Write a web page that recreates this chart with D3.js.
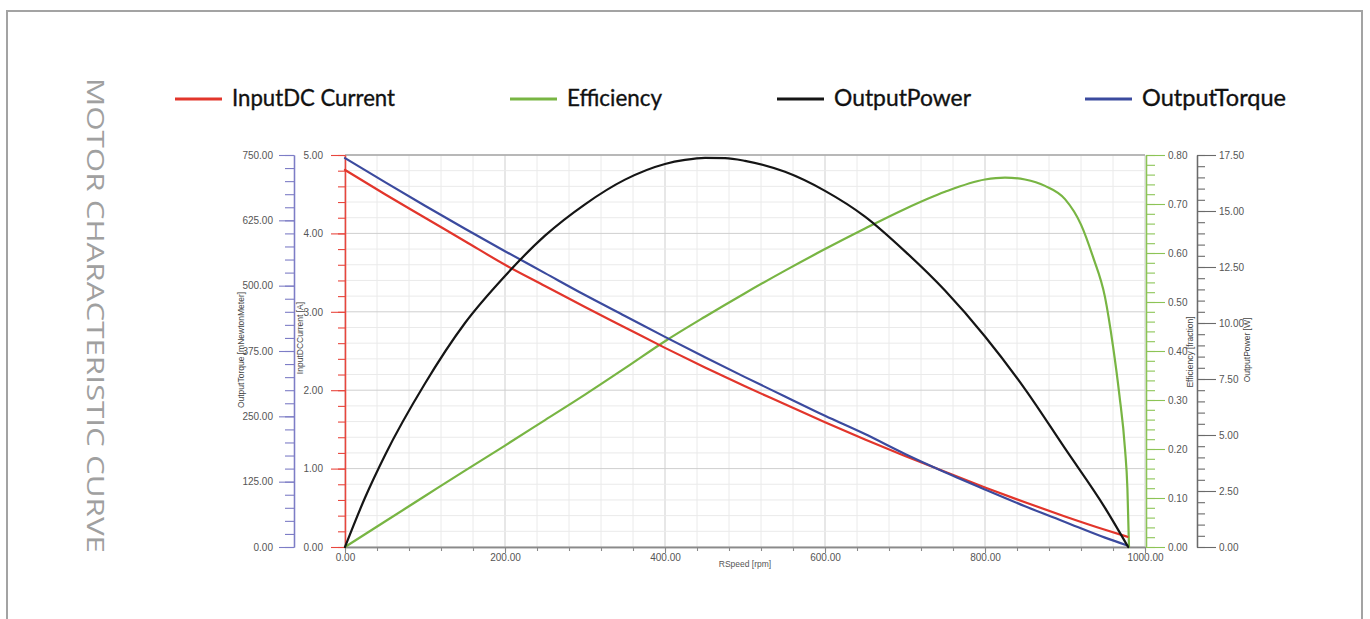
<!DOCTYPE html>
<html><head><meta charset="utf-8">
<script src="https://cdn.jsdelivr.net/npm/d3@7"></script>
<style>
html,body{margin:0;padding:0;background:#fff;}
svg{display:block;}
</style></head><body>
<svg id="chart" width="1370" height="619"></svg>
<script>
// ---------- DATA ----------
const chartTitle = "MOTOR CHARACTERISTIC CURVE";
const seriesNames = ["InputDC Current", "Efficiency", "OutputPower", "OutputTorque"];
const seriesColors = ["#e2352b", "#78b543", "#151515", "#3b4a9e"];

// speed points for current & torque
const speedCT = [0,50,100,150,200,250,300,350,400,450,500,550,600,650,700,750,800,850,900,950,978];
const inputCurrent = [4.81,4.50,4.20,3.90,3.60,3.33,3.06,2.80,2.54,2.29,2.05,1.82,1.59,1.37,1.16,0.96,0.76,0.57,0.39,0.22,0.13];
const outputTorque = [744,698,653,609,566,524,482,442,402,363,325,288,251,216,178,143,110,78,48,18,3];

// speed points for power
const speedP = [0,25,50,100,150,200,250,300,350,400,425,450,475,500,550,600,650,700,750,800,850,900,950,979];
const outputPower = [0,2.2,4.1,7.3,10.0,12.1,13.9,15.3,16.4,17.1,17.28,17.37,17.36,17.24,16.75,15.9,14.75,13.2,11.45,9.4,7.05,4.4,1.75,0];

// speed points for efficiency
const speedE = [0,50,100,150,200,250,300,350,400,450,500,550,600,650,700,750,800,825,850,875,900,920,935,950,960,968,975,978,980];
const efficiency = [0,0.052,0.104,0.156,0.207,0.259,0.311,0.365,0.42,0.47,0.518,0.564,0.608,0.65,0.69,0.725,0.75,0.754,0.75,0.737,0.71,0.658,0.592,0.51,0.41,0.31,0.20,0.12,0];

// axis tick values
const speedTicks = [0,200,400,600,800,1000];
const currentTicks = [0,1,2,3,4,5];
const torqueTicks = [0,125,250,375,500,625,750];
const effTicks = [0,0.1,0.2,0.3,0.4,0.5,0.6,0.7,0.8];
const powerTicks = [0,2.5,5,7.5,10,12.5,15,17.5];

// axis titles
const xTitle = "RSpeed [rpm]";
const torqueTitle = "OutputTorque [mNewtonMeter]";
const currentTitle = "InputDCCurrent [A]";
const effTitle = "Efficiency [fraction]";
const powerTitle = "OutputPower [W]";

// ---------- LAYOUT ----------
const svg = d3.select("#chart");
const L = 345, R = 1145, T = 155, B = 547;
const tickFont = '"Liberation Sans", Arial, sans-serif';

const x = d3.scaleLinear().domain([0,1000]).range([L,R]);
const yCur = d3.scaleLinear().domain([0,5]).range([B,T]);
const yTor = d3.scaleLinear().domain([0,750]).range([B,T]);
const yEff = d3.scaleLinear().domain([0,0.8]).range([B,T]);
const yPow = d3.scaleLinear().domain([0,17.5]).range([B,T]);

// outer frame
svg.append("path")
  .attr("d", "M7,625 L7,11 L1362,11 L1362,625")
  .attr("fill","none").attr("stroke","#a3a3a3").attr("stroke-width",2);

// vertical title
svg.append("text")
  .attr("transform","translate(87,78) rotate(90)")
  .attr("font-family","'Open Sans', Lato, sans-serif")
  .attr("font-size",24).attr("font-weight",400)
  .attr("fill","#a0a0a0")
  .attr("textLength",475).attr("lengthAdjust","spacingAndGlyphs")
  .text(chartTitle);

// legend
const legendX = [175, 510, 777, 1085];
const legendW = [163, 95, 137, 144];
seriesNames.forEach((n,i)=>{
  const g = svg.append("g").attr("transform",`translate(${legendX[i]},0)`);
  g.append("line").attr("x1",0).attr("x2",47).attr("y1",99).attr("y2",99)
    .attr("stroke",seriesColors[i]).attr("stroke-width",3);
  g.append("text").attr("x",57).attr("y",106)
    .attr("font-family","Lato, 'Open Sans', sans-serif").attr("font-size",23)
    .attr("fill","#111").attr("stroke","#111").attr("stroke-width",0.35)
    .attr("textLength",legendW[i]).attr("lengthAdjust","spacingAndGlyphs")
    .text(n);
});

// grid
const grid = svg.append("g");
const vMinor = d3.range(0,1001,40);
const hMinor = d3.range(0,5.001,0.2);
grid.selectAll("line.vm").data(vMinor).join("line")
  .attr("x1",d=>x(d)).attr("x2",d=>x(d)).attr("y1",T).attr("y2",B)
  .attr("stroke",d=>(Math.round(d)%200===0)?"#cfcfcf":"#eaeaea").attr("stroke-width",1);
grid.selectAll("line.hm").data(hMinor).join("line")
  .attr("x1",L).attr("x2",R).attr("y1",d=>yCur(d)).attr("y2",d=>yCur(d))
  .attr("stroke",d=>(Math.abs(d-Math.round(d))<1e-6)?"#cfcfcf":"#eaeaea").attr("stroke-width",1);
// top border of plot
svg.append("line").attr("x1",L).attr("x2",R).attr("y1",T).attr("y2",T)
  .attr("stroke","#a8a8a8").attr("stroke-width",1.5);

function styleAxis(g, color, labelColor){
  g.select(".domain").attr("stroke",color).attr("stroke-width",1.3);
  g.selectAll(".tick line").attr("stroke",color).attr("stroke-width",1.1);
  g.selectAll(".tick text").attr("fill",labelColor||"#555")
    .attr("font-family",tickFont).attr("font-size",10);
}
const fmt = d3.format(".2f");

// X axis
const xMinorVals = d3.range(0,1001,40);
const gxm = svg.append("g").attr("transform",`translate(0,${B})`)
  .call(d3.axisBottom(x).tickValues(xMinorVals).tickSize(4).tickSizeOuter(0).tickFormat(""));
styleAxis(gxm,"#8a8a8a");
const gx = svg.append("g").attr("transform",`translate(0,${B})`)
  .call(d3.axisBottom(x).tickValues(speedTicks).tickSize(6).tickSizeOuter(0).tickPadding(1).tickFormat(fmt));
styleAxis(gx,"#8a8a8a");
svg.append("text").attr("x",745).attr("y",567).attr("text-anchor","middle")
  .attr("font-family",tickFont).attr("font-size",8.5).attr("fill","#555").text(xTitle);

// Current axis (red)
const curMinor = d3.range(0,5.001,0.2);
const gcm = svg.append("g").attr("transform",`translate(${L},0)`)
  .call(d3.axisLeft(yCur).tickValues(curMinor).tickSize(7).tickSizeOuter(0).tickFormat(""));
styleAxis(gcm,"#e8463d");
const gc = svg.append("g").attr("transform",`translate(${L},0)`)
  .call(d3.axisLeft(yCur).tickValues(currentTicks).tickSize(14).tickSizeOuter(0).tickPadding(8).tickFormat(fmt));
styleAxis(gc,"#e8463d");

// Torque axis (blue)
const TX = 294;
const torMinor = d3.range(0,751,25);
const gtm = svg.append("g").attr("transform",`translate(${TX},0)`)
  .call(d3.axisLeft(yTor).tickValues(torMinor).tickSize(9).tickSizeOuter(0).tickFormat(""));
styleAxis(gtm,"#7d7dc6");
const gt = svg.append("g").attr("transform",`translate(${TX},0)`)
  .call(d3.axisLeft(yTor).tickValues(torqueTicks).tickSize(15).tickSizeOuter(0).tickPadding(6).tickFormat(fmt));
styleAxis(gt,"#7d7dc6");

// Efficiency axis (green)
const EX = 1146;
const effMinor = d3.range(0,0.8001,0.02);
const gem = svg.append("g").attr("transform",`translate(${EX},0)`)
  .call(d3.axisRight(yEff).tickValues(effMinor).tickSize(9).tickSizeOuter(0).tickFormat(""));
styleAxis(gem,"#8cc456");
const ge = svg.append("g").attr("transform",`translate(${EX},0)`)
  .call(d3.axisRight(yEff).tickValues(effTicks).tickSize(19).tickSizeOuter(0).tickPadding(3).tickFormat(fmt));
styleAxis(ge,"#8cc456");

// Power axis (gray)
const PX = 1197;
const powMinor = d3.range(0,17.5001,0.5);
const gpm = svg.append("g").attr("transform",`translate(${PX},0)`)
  .call(d3.axisRight(yPow).tickValues(powMinor).tickSize(8).tickSizeOuter(0).tickFormat(""));
styleAxis(gpm,"#6a6a6a");
const gp = svg.append("g").attr("transform",`translate(${PX},0)`)
  .call(d3.axisRight(yPow).tickValues(powerTicks).tickSize(19).tickSizeOuter(0).tickPadding(3).tickFormat(fmt));
styleAxis(gp,"#6a6a6a");

// axis titles
function vTitle(xp, yp, txt){
  svg.append("text").attr("transform",`translate(${xp},${yp}) rotate(-90)`)
    .attr("text-anchor","middle").attr("font-family",tickFont).attr("font-size",8.5)
    .attr("fill","#444").text(txt);
}
vTitle(244, 350, torqueTitle);
vTitle(303, 338, currentTitle);
vTitle(1193, 352, effTitle);
vTitle(1250, 350, powerTitle);

// ---------- SERIES ----------
const plot = svg.append("g");
function drawLine(xs, ys, yScale, color){
  const pts = xs.map((s,i)=>[s, ys[i]]);
  plot.append("path").datum(pts)
    .attr("fill","none").attr("stroke",color).attr("stroke-width",2.2)
    .attr("stroke-linejoin","round").attr("stroke-linecap","round")
    .attr("d", d3.line().x(d=>x(d[0])).y(d=>yScale(d[1])).curve(d3.curveMonotoneX));
}
drawLine(speedE, efficiency, yEff, seriesColors[1]);
drawLine(speedCT, inputCurrent, yCur, seriesColors[0]);
drawLine(speedCT, outputTorque, yTor, seriesColors[3]);
drawLine(speedP, outputPower, yPow, seriesColors[2]);
</script></body></html>
